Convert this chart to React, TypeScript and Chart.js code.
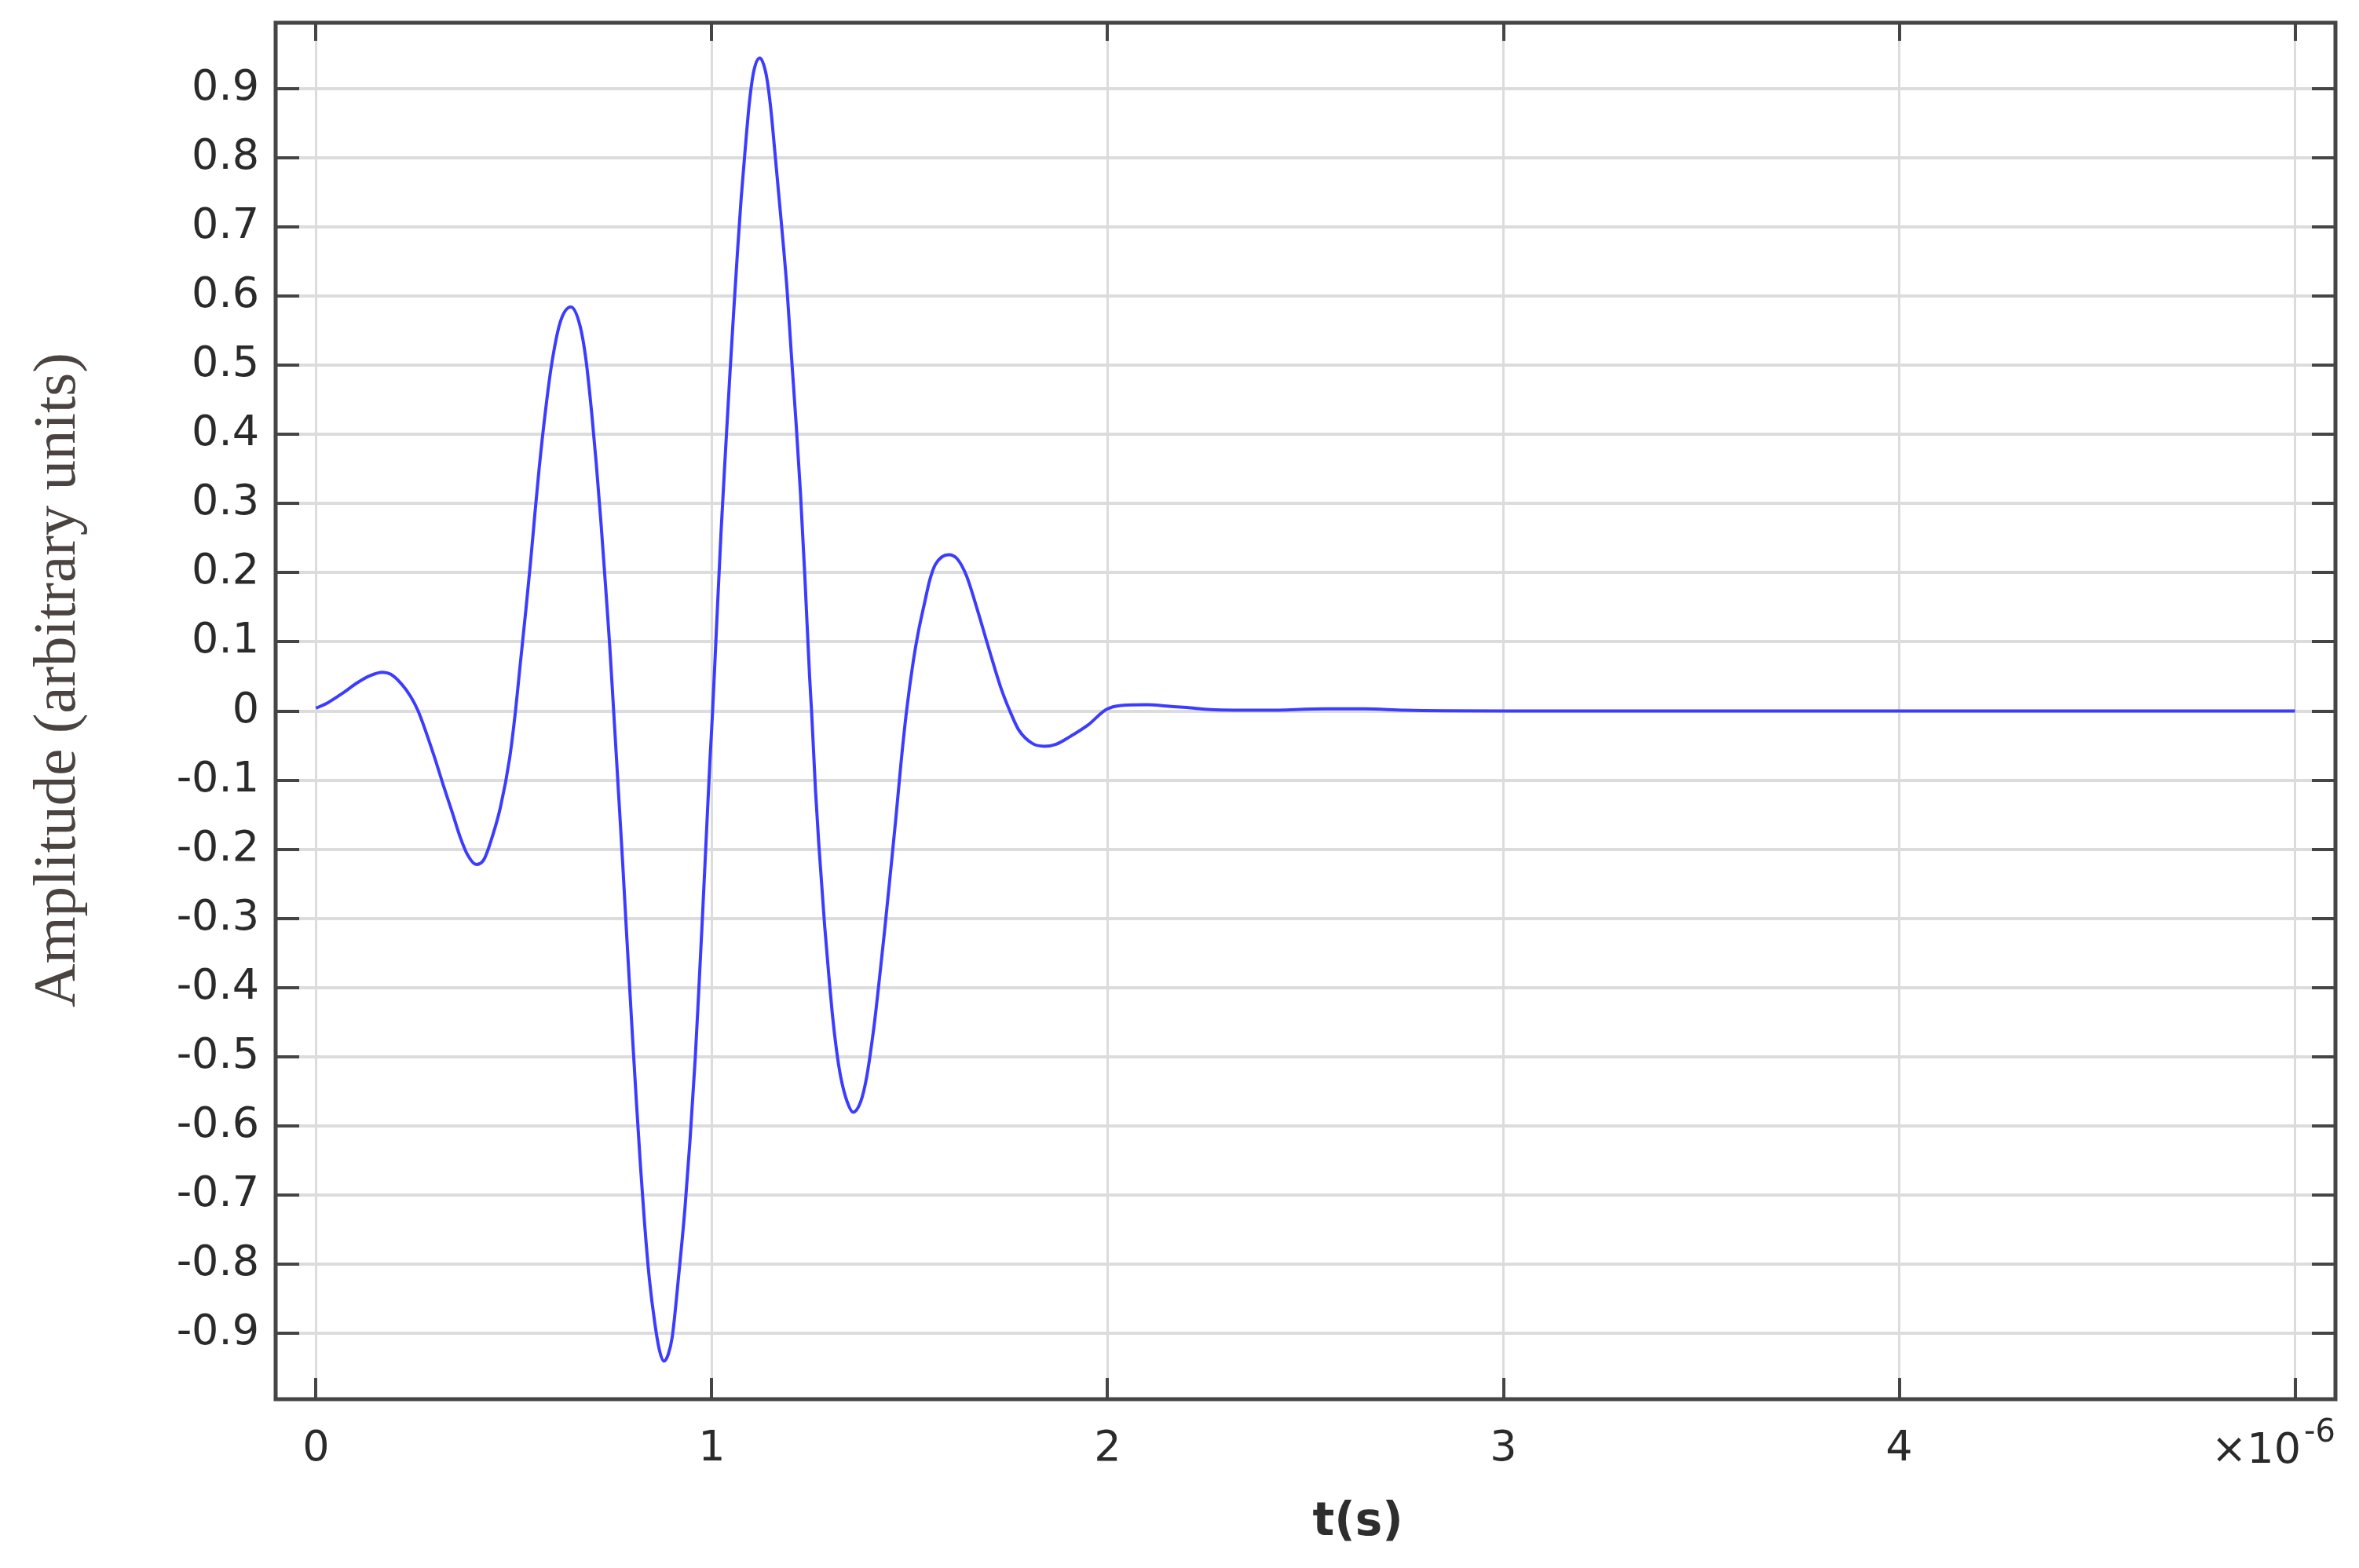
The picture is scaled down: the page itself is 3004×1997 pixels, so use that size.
import React, { useEffect, useRef } from 'react';
import { Chart, registerables } from 'chart.js';

Chart.register(...registerables);

// time in microseconds (axis shows ×10^-6 s)
const timeMicroseconds = [
  0, 0.03, 0.068, 0.102, 0.136, 0.167, 0.189, 0.216, 0.239, 0.258,
  0.277, 0.3, 0.322, 0.345, 0.364, 0.383, 0.405, 0.424, 0.443, 0.466, 0.489, 0.504,
  0.515, 0.53, 0.542, 0.553, 0.564, 0.58, 0.595, 0.617, 0.644, 0.667, 0.682, 0.697, 0.708, 0.72, 0.731, 0.742, 0.752,
  0.765, 0.775, 0.784, 0.793, 0.8, 0.81, 0.82, 0.83, 0.842, 0.856, 0.868, 0.879, 0.89, 0.9, 0.916, 0.932, 0.945, 0.958, 0.967, 0.977, 0.987, 0.995, 1.002,
  1.011, 1.023, 1.035, 1.046, 1.055, 1.065, 1.074, 1.084, 1.095, 1.106, 1.121, 1.137, 1.148, 1.159, 1.175, 1.19, 1.201, 1.213, 1.224, 1.235, 1.247, 1.252,
  1.262, 1.27, 1.285, 1.296, 1.304, 1.315, 1.326, 1.342, 1.357, 1.376, 1.391, 1.41, 1.421, 1.437, 1.452, 1.465, 1.478, 1.492,
  1.509, 1.522, 1.537, 1.551, 1.565, 1.598, 1.62, 1.643, 1.67, 1.7, 1.73, 1.753,
  1.776, 1.81, 1.84, 1.87, 1.905, 1.951, 1.996,
  2.034, 2.1, 2.15, 2.2, 2.26, 2.4, 2.55, 2.65, 2.75, 3.0, 4.0, 5.0,
];

const amplitude = [
  0.004, 0.012, 0.026, 0.040, 0.051, 0.056, 0.053, 0.039, 0.021, 0.000,
  -0.029, -0.068, -0.108, -0.148, -0.182, -0.208, -0.222, -0.215, -0.186, -0.139, -0.069, 0.000,
  0.062, 0.145, 0.215, 0.285, 0.352, 0.435, 0.500, 0.562, 0.584, 0.557, 0.508, 0.428, 0.358, 0.272, 0.185, 0.095, 0.000,
  -0.125, -0.222, -0.315, -0.405, -0.475, -0.570, -0.660, -0.740, -0.820, -0.885, -0.925, -0.940, -0.930, -0.905, -0.818, -0.720, -0.620, -0.503, -0.405, -0.290, -0.170, -0.075, 0.000,
  0.110, 0.255, 0.380, 0.490, 0.575, 0.665, 0.740, 0.810, 0.880, 0.925, 0.944, 0.921, 0.876, 0.810, 0.710, 0.610, 0.515, 0.415, 0.315, 0.195, 0.050, 0.000,
  -0.115, -0.190, -0.310, -0.385, -0.435, -0.490, -0.530, -0.565, -0.580, -0.565, -0.530, -0.455, -0.400, -0.315, -0.230, -0.155, -0.075, 0.000,
  0.072, 0.115, 0.155, 0.190, 0.212, 0.226, 0.220, 0.196, 0.148, 0.090, 0.034, 0.000,
  -0.028, -0.047, -0.051, -0.048, -0.037, -0.020, 0.002,
  0.008, 0.009, 0.007, 0.005, 0.002, 0.001, 0.003, 0.003, 0.001, 0.000, 0.000, 0.000,
];

const xTickValues = [0, 1, 2, 3, 4, 5];
const xTickLabels = ['0', '1', '2', '3', '4', ''];
const yTickValues = [-0.9, -0.8, -0.7, -0.6, -0.5, -0.4, -0.3, -0.2, -0.1, 0, 0.1, 0.2, 0.3, 0.4, 0.5, 0.6, 0.7, 0.8, 0.9];
const xAxisTitle = 't(s)';
const yAxisTitle = 'Amplitude (arbitrary units)';
const xScaleMantissa = '×10';
const xScaleExponent = '-6';

const W = 3004;
const H = 1997;
const TICK_FONT = '54px "DejaVu Sans"';

const framePlugin = {
  id: 'frameAndTitles',
  afterDatasetsDraw(chart: any) {
    const { ctx, chartArea, scales } = chart;
    const { left, right, top, bottom } = chartArea;
    const xs = scales.x;
    const ys = scales.y;
    ctx.save();
    ctx.strokeStyle = '#454545';
    ctx.lineWidth = 4;
    ctx.beginPath();
    yTickValues.forEach((v) => {
      const py = Math.round(ys.getPixelForValue(v));
      ctx.moveTo(left, py);
      ctx.lineTo(left + 30, py);
      ctx.moveTo(right, py);
      ctx.lineTo(right - 30, py);
    });
    xTickValues.forEach((v) => {
      const px = Math.round(xs.getPixelForValue(v));
      ctx.moveTo(px, bottom);
      ctx.lineTo(px, bottom - 27);
      ctx.moveTo(px, top);
      ctx.lineTo(px, top + 23);
    });
    ctx.stroke();
    ctx.lineWidth = 5;
    ctx.strokeRect(left, top, right - left, bottom - top);

    // x axis title
    ctx.fillStyle = '#2e2e2e';
    ctx.font = 'bold 58px "DejaVu Sans"';
    ctx.textAlign = 'center';
    ctx.textBaseline = 'alphabetic';
    ctx.fillText(xAxisTitle, left + (right - left) * 0.5254, 1955);

    // multiplier ×10^-6
    ctx.fillStyle = '#2a2a2a';
    ctx.font = TICK_FONT;
    ctx.textAlign = 'right';
    ctx.fillText(xScaleMantissa, 2930, 1863);
    ctx.font = '40px "DejaVu Sans"';
    ctx.textAlign = 'left';
    ctx.fillText(xScaleExponent, 2934, 1836);

    // y axis title
    ctx.save();
    ctx.translate(75, 866);
    ctx.rotate(-Math.PI / 2);
    ctx.fillStyle = '#4a4340';
    ctx.font = '77px "Liberation Serif"';
    ctx.textAlign = 'center';
    ctx.textBaseline = 'middle';
    ctx.fillText(yAxisTitle, 0, 0);
    ctx.restore();
    ctx.restore();
  },
};

export default function App() {
  const canvasRef = useRef<HTMLCanvasElement | null>(null);

  useEffect(() => {
    const canvas = canvasRef.current;
    if (!canvas) return;
    const points = timeMicroseconds.map((t, i) => ({ x: t, y: amplitude[i] }));
    const chart = new Chart(canvas, {
      type: 'line',
      data: {
        datasets: [
          {
            data: points,
            borderColor: 'rgb(60,60,255)',
            borderWidth: 4,
            pointRadius: 0,
            fill: false,
            cubicInterpolationMode: 'monotone',
          },
        ],
      },
      options: {
        animation: false,
        responsive: false,
        devicePixelRatio: 1,
        layout: { padding: { left: 0, top: 29, right: 30, bottom: 0 } },
        plugins: {
          legend: { display: false },
          tooltip: { enabled: false },
          title: { display: false },
        },
        scales: {
          x: {
            type: 'linear',
            min: -0.102,
            max: 5.102,
            afterFit: (s: any) => {
              s.height = H - 1782;
              s.paddingLeft = 0;
              s.paddingRight = 0;
            },
            afterBuildTicks: (s: any) => {
              s.ticks = xTickValues.map((v) => ({ value: v }));
            },
            ticks: {
              autoSkip: false,
              maxRotation: 0,
              padding: 32,
              color: '#2a2a2a',
              font: { family: 'DejaVu Sans', size: 54 },
              callback: (v: any) => {
                const idx = xTickValues.indexOf(Math.round(Number(v)));
                return idx >= 0 ? xTickLabels[idx] : '';
              },
            },
            grid: { color: '#dcdcdc', lineWidth: 3, drawTicks: false },
            border: { display: false },
          },
          y: {
            type: 'linear',
            min: -0.995,
            max: 0.995,
            afterFit: (s: any) => {
              s.width = 351;
              s.paddingTop = 0;
              s.paddingBottom = 0;
            },
            afterBuildTicks: (s: any) => {
              s.ticks = yTickValues.map((v) => ({ value: v }));
            },
            ticks: {
              autoSkip: false,
              padding: 21,
              color: '#2a2a2a',
              font: { family: 'DejaVu Sans', size: 54 },
              callback: (v: any) => {
                const n = Number(v);
                return Math.abs(n) < 1e-9 ? '0' : n.toFixed(1);
              },
            },
            grid: { color: '#dcdcdc', lineWidth: 4, drawTicks: false },
            border: { display: false },
          },
        },
      },
      plugins: [framePlugin],
    });
    return () => chart.destroy();
  }, []);

  return (
    <div style={{ position: 'absolute', left: 0, top: 0, width: W, height: H, background: '#ffffff' }}>
      <canvas ref={canvasRef} width={W} height={H} style={{ display: 'block', width: W, height: H }} />
    </div>
  );
}
